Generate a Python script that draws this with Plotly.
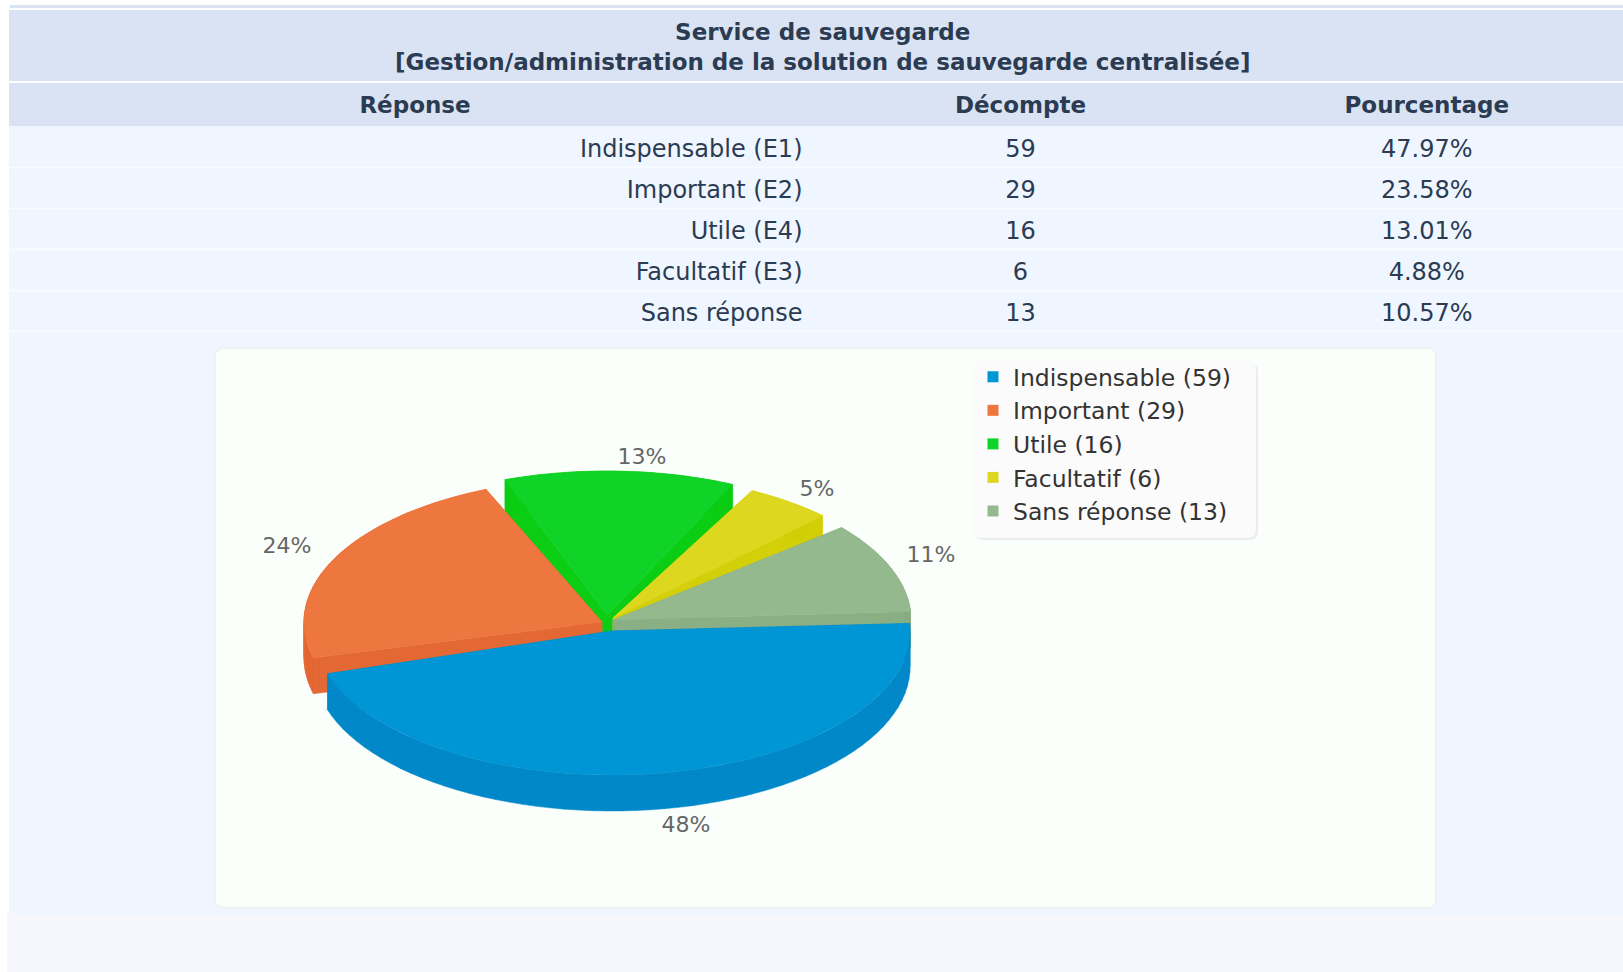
import plotly.graph_objects as go
import math

TITLE = "Service de sauvegarde<br>[Gestion/administration de la solution de sauvegarde centralisée]"
HEADERS = ["Réponse", "Décompte", "Pourcentage"]
ROW_LABELS = ["Indispensable (E1)", "Important (E2)", "Utile (E4)", "Facultatif (E3)", "Sans réponse"]
COUNTS = [59, 29, 16, 6, 13]
PERCENTS = ["47.97%", "23.58%", "13.01%", "4.88%", "10.57%"]
PIE_NAMES = ["Indispensable", "Important", "Utile", "Facultatif", "Sans réponse"]

TOP_COLORS = ["#0095D4", "#EE763F", "#0FD326", "#DDD81F", "#95B98E"]
WALL_COLORS = ["#0088C9", "#E46834", "#0ACD14", "#D3CF08", "#8BAF84"]
APEX = [(612, 631), (602, 622), (607, 615), (613, 618), (613, 620)]
ANGLE_NUDGE = [0, 0, 0, 0, 2.5]
LABEL_POS = [(686, 826), (287, 547), (642, 458), (817, 490), (931, 556)]
DRAW_ORDER = [2, 3, 4, 1, 0]

RX, RY, DEPTH = 298, 144, 36
START_DEG = -3
GAP_DEG = 2.9
FONT = "DejaVu Sans"
TEXT = "#2B3B52"
CLEAR = "rgba(0,0,0,0)"


def rounded(x0, y0, x1, y1, r):
    return (f"M{x0 + r},{y0} L{x1 - r},{y0} Q{x1},{y0} {x1},{y0 + r} L{x1},{y1 - r} Q{x1},{y1} {x1 - r},{y1} "
            f"L{x0 + r},{y1} Q{x0},{y1} {x0},{y1 - r} L{x0},{y0 + r} Q{x0},{y0} {x0 + r},{y0} Z")


def band(x0, y0, x1, y1, color):
    return dict(type="rect", x0=x0, y0=y0, x1=x1, y1=y1, fillcolor=color, line_width=0, layer="below")


def wedge_outline(i, a0, a1):
    cx, cy = APEX[i]
    pts = [(cx, cy)]
    n = 60
    for k in range(n + 1):
        t = math.radians(a0 + (a1 - a0) * k / n)
        pts.append((cx + RX * math.cos(t), cy + RY * math.sin(t)))
    pts.append((cx, cy))
    return pts


def wall_path(pts):
    xs, ys = [], []
    for (x0, y0), (x1, y1) in zip(pts, pts[1:]):
        quad = [(x0, y0), (x1, y1), (x1, y1 + DEPTH), (x0, y0 + DEPTH)]
        if x1 < x0:
            quad.reverse()
        xs += [p[0] for p in quad] + [quad[0][0], None]
        ys += [p[1] for p in quad] + [quad[0][1], None]
    return xs, ys


total = sum(COUNTS)
angles = []
cum = START_DEG
for v, nudge in zip(COUNTS, ANGLE_NUDGE):
    span = v / total * (360 - GAP_DEG * len(COUNTS))
    angles.append((cum + nudge, cum + span + nudge))
    cum += span + GAP_DEG

fig = go.Figure()

for i in DRAW_ORDER:
    outline = wedge_outline(i, *angles[i])
    wx, wy = wall_path(outline)
    fig.add_trace(go.Scatter(x=wx, y=wy, mode="lines", fill="toself", fillcolor=WALL_COLORS[i],
                             line=dict(color=WALL_COLORS[i], width=0.5), showlegend=False, hoverinfo="skip"))
    fig.add_trace(go.Scatter(x=[p[0] for p in outline], y=[p[1] for p in outline], mode="lines",
                             fill="toself", fillcolor=TOP_COLORS[i],
                             line=dict(color=TOP_COLORS[i], width=0.5), showlegend=False,
                             name=PIE_NAMES[i], hoverinfo="name"))

# percentage labels around the pie
fig.add_trace(go.Scatter(x=[p[0] for p in LABEL_POS], y=[p[1] for p in LABEL_POS], mode="text",
                         text=[f"{round(v / total * 100)}%" for v in COUNTS],
                         textfont=dict(family=FONT, size=22, color="#666666"), showlegend=False, hoverinfo="skip"))

# legend entries
for name, v, color in zip(PIE_NAMES, COUNTS, TOP_COLORS):
    fig.add_trace(go.Scatter(x=[None], y=[None], mode="markers", name=f"{name} ({v})", legendgroup=name,
                             marker=dict(symbol="square", size=11, color=color)))

# empty first column only pushes the text to where the original has it
fig.add_trace(go.Table(
    domain=dict(x=[9 / 1623, 1], y=[1 - 336 / 972, 1 - 84 / 972]),
    columnwidth=[10.5, 791, 420, 392.5],
    header=dict(values=[""] + [f"<b>{h}</b>" for h in HEADERS], fill_color=CLEAR, height=47,
                line=dict(color=CLEAR, width=0), align="center",
                font=dict(family=FONT, size=23, color=TEXT)),
    cells=dict(values=[[""] * len(COUNTS), ROW_LABELS, COUNTS, PERCENTS], fill_color=CLEAR, height=41,
               line=dict(color=CLEAR, width=0), align=["right", "right", "center", "center"],
               font=dict(family=FONT, size=24, color=TEXT)),
))

row_rules = [dict(type="line", x0=9, x1=1623, y0=y, y1=y, line=dict(color="#F8FBFF", width=2), layer="below")
             for y in [167.5, 208.5, 249.5, 290.5, 331.5]]

fig.update_layout(
    width=1623, height=972, margin=dict(l=0, r=0, t=0, b=0), paper_bgcolor="white", plot_bgcolor=CLEAR,
    xaxis=dict(range=[0, 1623], visible=False, fixedrange=True),
    yaxis=dict(range=[972, 0], visible=False, fixedrange=True),
    font=dict(family=FONT, color=TEXT),
    legend=dict(x=973 / 1623, y=1 - 355 / 972, xanchor="left", yanchor="top", bgcolor=CLEAR,
                tracegroupgap=0, itemclick=False, itemdoubleclick=False,
                font=dict(family=FONT, size=23.5, color="#333333")),
    shapes=[
        band(10, 5, 1623, 8, "#DAE3F3"),
        band(9, 10, 1623, 81, "#DAE3F3"),
        band(9, 83, 1623, 126, "#DAE3F3"),
        band(9, 126, 1623, 914, "#EFF6FF"),
        band(7, 914, 1623, 972, "#F5F7FD"),
    ] + row_rules + [
        dict(type="path", path=rounded(215, 348, 1436, 908, 9), fillcolor="#FBFFFC",
             line=dict(color="#F0F2F2", width=2), layer="below"),
        dict(type="path", path=rounded(975, 363, 1258, 540, 9), fillcolor="#ECECEC", line_width=0, layer="below"),
        dict(type="path", path=rounded(973, 360, 1256, 538, 9), fillcolor="#FBFBFB", line_width=0, layer="below"),
    ],
    annotations=[dict(x=822, y=47, xref="x", yref="y", text=f"<b>{TITLE}</b>", showarrow=False,
                      font=dict(family=FONT, size=23, color=TEXT))],
)

fig.write_html("out.html", config={"displayModeBar": False}, post_script="document.body.style.margin='0';")
